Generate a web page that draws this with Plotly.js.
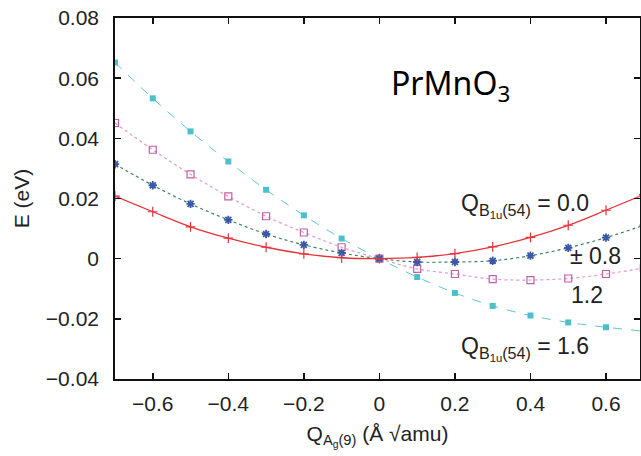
<!DOCTYPE html>
<html>
<head>
<meta charset="utf-8">
<script src="https://cdn.plot.ly/plotly-3.0.1.min.js"></script>
<style>html,body{margin:0;padding:0;background:#fff;}#chart{width:641px;height:456px;}</style>
</head>
<body>
<div id="chart"></div>
<script>
// Q_Ag(9) displacement values
const qAg = [-0.7, -0.6, -0.5, -0.4, -0.3, -0.2, -0.1, 0.0, 0.1, 0.2, 0.3, 0.4, 0.5, 0.6, 0.7];
// Energies (eV) for each Q_B1u(54) amplitude
const e00 = [0.0208, 0.0156, 0.0106, 0.0068, 0.0038, 0.0016, 0.0003, 0.0, 0.0004, 0.0017, 0.0039, 0.0071, 0.0111, 0.0161, 0.0213];
const e08 = [0.0314, 0.0244, 0.0182, 0.0129, 0.0082, 0.0046, 0.0019, 0.0, -0.0011, -0.0011, -0.0007, 0.0010, 0.0036, 0.0070, 0.0111];
const e12 = [0.0451, 0.0362, 0.0280, 0.0207, 0.0141, 0.0087, 0.0038, 0.0, -0.0034, -0.0051, -0.0068, -0.0071, -0.0066, -0.0051, -0.0031];
const e16 = [0.0652, 0.0533, 0.0423, 0.0323, 0.0229, 0.0144, 0.0067, 0.0, -0.0061, -0.0114, -0.0157, -0.0189, -0.0212, -0.0228, -0.0241];
const yTicks = [-0.04, -0.02, 0, 0.02, 0.04, 0.06, 0.08];
const yTickText = ['\u22120.04', '\u22120.02', '0', '0.02', '0.04', '0.06', '0.08'];
const xTicks = [-0.6, -0.4, -0.2, 0, 0.2, 0.4, 0.6];
const xTickText = ['\u22120.6', '\u22120.4', '\u22120.2', '0', '0.2', '0.4', '0.6'];

const traces = [
  {x: qAg, y: e16, mode: 'lines+markers', line: {color: '#5cc6d2', width: 1, dash: 'dash', shape: 'spline'},
   marker: {symbol: 'square', size: 6, color: '#4dbfcc'}},
  {x: qAg, y: e12, mode: 'lines+markers', line: {color: '#e098d0', width: 1.2, dash: 'dot', shape: 'spline'},
   marker: {symbol: 'square-open', size: 7, color: '#c25fa6', line: {width: 1.2}}},
  {x: qAg, y: e08, mode: 'lines+markers', line: {color: '#3f8060', width: 1.2, dash: 'dot', shape: 'spline'},
   marker: {symbol: 'asterisk-open', size: 7, color: '#3a58a8', line: {width: 1.8, color: '#3a58a8'}}},
  {x: qAg, y: e00, mode: 'lines+markers', line: {color: '#e4343a', width: 1.3, shape: 'spline'},
   marker: {symbol: 'cross-thin-open', size: 7, color: '#e4343a', line: {width: 1.2, color: '#e4343a'}}}
];

const af = {family: 'Liberation Sans, Arial, sans-serif', size: 23, color: '#222'};
const layout = {
  width: 641, height: 456,
  margin: {l: 115, r: 1, t: 18, b: 77},
  showlegend: false,
  paper_bgcolor: '#fff', plot_bgcolor: '#fff',
  font: {family: 'Liberation Sans, Arial, sans-serif', size: 21, color: '#222'},
  xaxis: {
    range: [-0.7, 0.69], tickvals: xTicks, ticktext: xTickText,
    ticks: 'inside', ticklen: 6, tickwidth: 1.5, tickcolor: '#111',
    showline: true, linecolor: '#111', linewidth: 1.8, mirror: 'ticks',
    showgrid: false, zeroline: false,
    tickfont: {size: 21}, ticklabelstandoff: 5,
    title: {text: 'Q<sub>A<sub>g</sub>(9)</sub> (\u00c5 \u221aamu)', font: {size: 21}, standoff: 12}
  },
  yaxis: {
    range: [-0.04, 0.08], tickvals: yTicks, ticktext: yTickText,
    ticks: 'inside', ticklen: 6, tickwidth: 1.5, tickcolor: '#111',
    showline: true, linecolor: '#111', linewidth: 1.8, mirror: 'ticks',
    showgrid: false, zeroline: false,
    tickfont: {size: 21}, ticklabelstandoff: 10,
    title: {text: 'E (eV)', font: {size: 21}, standoff: 10}
  },
  annotations: [
    {xref: 'x', yref: 'y', x: 0.212, y: 0.0178, xanchor: 'left', yanchor: 'middle', showarrow: false,
     text: 'Q<sub>B<sub>1u</sub>(54)</sub> = 0.0', font: af},
    {xref: 'x', yref: 'y', x: 0.50, y: 0.001, xanchor: 'left', yanchor: 'middle', showarrow: false,
     text: '\u00b1 0.8', font: af},
    {xref: 'x', yref: 'y', x: 0.503, y: -0.012, xanchor: 'left', yanchor: 'middle', showarrow: false,
     text: '1.2', font: af},
    {xref: 'x', yref: 'y', x: 0.210, y: -0.0297, xanchor: 'left', yanchor: 'middle', showarrow: false,
     text: 'Q<sub>B<sub>1u</sub>(54)</sub> = 1.6', font: af},
    {xref: 'paper', yref: 'paper', x: 0.522, y: 0.815, xanchor: 'left', yanchor: 'middle', showarrow: false,
     text: 'PrMnO<sub>3</sub>', font: {family: 'Noto Sans, Open Sans, sans-serif', size: 32, color: '#000'}}
  ]
};
Plotly.newPlot('chart', traces, layout, {displayModeBar: false, staticPlot: true});
</script>
</body>
</html>
